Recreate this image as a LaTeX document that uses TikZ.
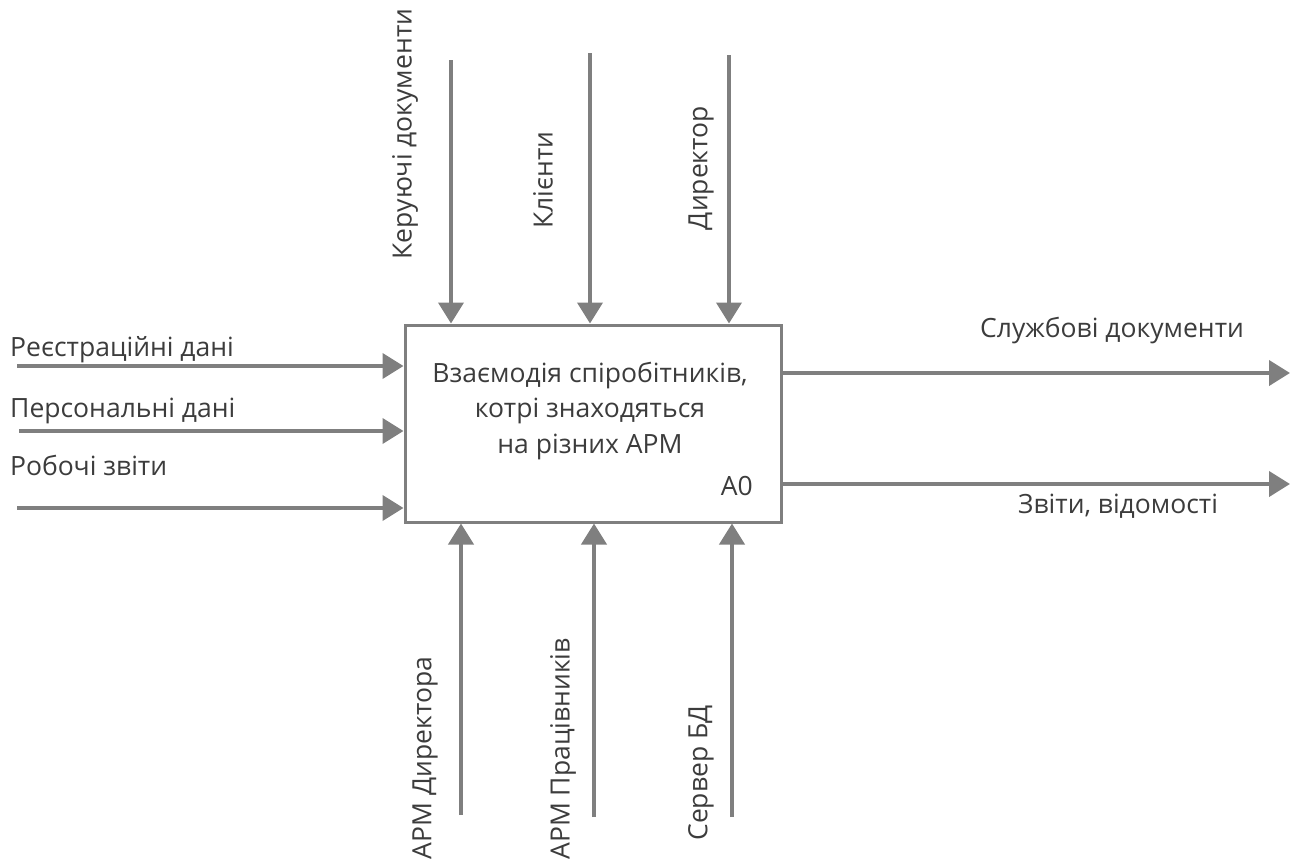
\documentclass[tikz,border=0pt]{standalone}
\usepackage{fontspec}
\setmainfont{Open Sans}
\usetikzlibrary{arrows.meta,positioning}

\definecolor{linegrey}{HTML}{7F7F7F}
\definecolor{textgrey}{HTML}{3C3C3C}

\begin{document}
\begin{tikzpicture}[
x=1pt, y=-1pt,
process/.style={rectangle, draw=linegrey, line width=3pt, minimum width=376pt, minimum height=197pt, inner sep=0pt},
flow/.style={draw=linegrey, line width=4pt, -{Triangle[length=21pt,width=25pt]}},
lbl/.style={text=textgrey, font=\fontsize{26.5}{35.5}\selectfont, inner sep=0pt},
vlbl/.style={lbl, rotate=90},
]
\useasboundingbox (0,0) rectangle (1291,862);

% function block
\node[process] (a0box) at (593,423.5) {};
\node[lbl, align=center, anchor=base] (title) at (590,453) {Взаємодія спіробітників,\\котрі знаходяться\\на різних АРМ};
\node[lbl, anchor=base east] (code) at (753,495) {A0};

% inputs
\coordinate (in1) at (17,366);
\coordinate (in2) at (19,431);
\coordinate (in3) at (17,508);
\draw[flow] (in1) -- (in1 -| a0box.west);
\draw[flow] (in2) -- (in2 -| a0box.west);
\draw[flow] (in3) -- (in3 -| a0box.west);
\node[lbl, anchor=base west] (reg) at (10,356) {Реєстраційні дані};
\node[lbl, anchor=base west] (pers) at (10,417) {Персональні дані};
\node[lbl, anchor=base west] (work) at (10,475) {Робочі звіти};

% controls
\coordinate (ctl1) at (451,60);
\coordinate (ctl2) at (590,53);
\coordinate (ctl3) at (729,55);
\draw[flow] (ctl1) -- (ctl1 |- a0box.north);
\draw[flow] (ctl2) -- (ctl2 |- a0box.north);
\draw[flow] (ctl3) -- (ctl3 |- a0box.north);
\node[vlbl] (docs) at (405,134) {Керуючі документи};
\node[vlbl] (clients) at (543,180) {Клієнти};
\node[vlbl] (dir) at (701,168) {Директор};

% mechanisms
\coordinate (mech1) at (461,815);
\coordinate (mech2) at (594,817);
\coordinate (mech3) at (732,817);
\draw[flow] (mech1) -- (mech1 |- a0box.south);
\draw[flow] (mech2) -- (mech2 |- a0box.south);
\draw[flow] (mech3) -- (mech3 |- a0box.south);
\node[vlbl] (armdir) at (425,758) {АРМ Директора};
\node[vlbl] (armstaff) at (563,749) {АРМ Працівників};
\node[vlbl] (server) at (701,773) {Сервер БД};

% outputs
\coordinate (out1) at (1290,373);
\coordinate (out2) at (1290,484);
\draw[flow] (a0box.east |- out1) -- (out1);
\draw[flow] (a0box.east |- out2) -- (out2);
\node[lbl, anchor=base west] (service) at (980,337) {Службові документи};
\node[lbl, anchor=base west] (reports) at (1018,513) {Звіти, відомості};
\end{tikzpicture}
\end{document}
